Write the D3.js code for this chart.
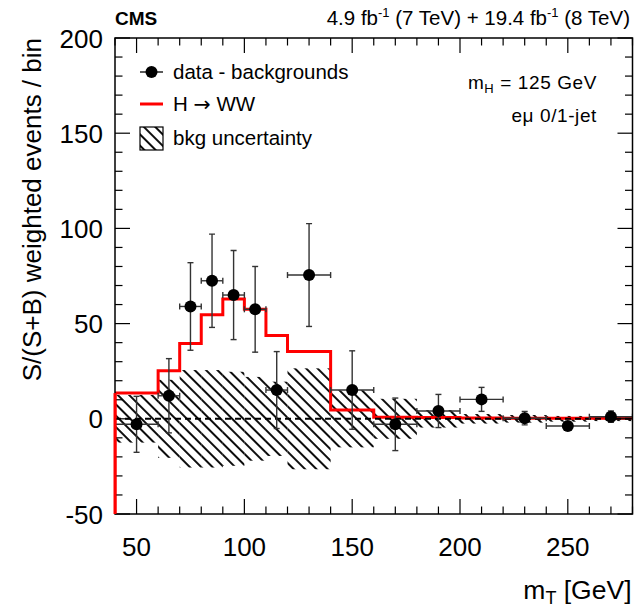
<!DOCTYPE html>
<html>
<head>
<meta charset="utf-8">
<script src="https://cdn.jsdelivr.net/npm/d3@7"></script>
<style>
  body { margin: 0; background: white; }
  text { font-family: "Liberation Sans", Arial, sans-serif; }
</style>
</head>
<body>
<svg id="vis-svg" width="634" height="610"></svg>
<script>
// plot frame in pixels
var width = 634;
var height = 610;
var frame = { left: 115, right: 632.5, top: 38, bottom: 514 };

// bins of the histogram (GeV)
var binEdges = [40, 60, 70, 80, 90, 100, 110, 120, 140, 160, 180, 200, 220, 240, 260, 280];
// H -> WW expectation per bin
var sigValues = [13.5, 25.3, 39.6, 54.7, 62.9, 57.5, 43.8, 35.3, 4.6, 0.8, 0.7, 0.4, 0.3, 0.3, 0.3];
// half width of the background uncertainty band
var bkgUnc = [12.5, 20.5, 25.6, 25.6, 24.7, 22, 19.5, 26.5, 15, 10.5, 4.6, 2.5, 2, 1.5, 1.2];
// data - backgrounds
var dataX = [50, 65, 75, 85, 95, 105, 115, 130, 150, 170, 190, 210, 230, 250, 270];
var dataY = [-2.9, 12.1, 59, 72.5, 65, 57.5, 15.1, 75.5, 15.1, -2.9, 4.1, 10.2, 0.3, -3.8, 1.1];
var dataErr = [14.7, 19.5, 23, 24.5, 23.4, 22.5, 20.2, 27, 20.6, 13.8, 8.7, 6.3, 3.5, 1.5, 3];

var xTicks = [50, 100, 150, 200, 250];
var yTicks = [-50, 0, 50, 100, 150, 200];

var svg = d3.select("#vis-svg");

var x = d3.scaleLinear().domain([40, 280]).range([frame.left, frame.right]);
var y = d3.scaleLinear().domain([-50, 200]).range([frame.bottom, frame.top]);

// hatch pattern for the uncertainty
var defs = svg.append("defs");
defs.append("pattern")
    .attr("id", "hatch")
    .attr("patternUnits", "userSpaceOnUse")
    .attr("width", 8)
    .attr("height", 8)
    .attr("patternTransform", "rotate(45)")
  .append("line")
    .attr("x1", 0).attr("x2", 8)
    .attr("y1", 4).attr("y2", 4)
    .attr("stroke", "black")
    .attr("stroke-width", 1.9);

defs.append("clipPath").attr("id", "plotclip")
  .append("rect")
    .attr("x", frame.left).attr("y", frame.top)
    .attr("width", frame.right - frame.left)
    .attr("height", frame.bottom - frame.top);

var plot = svg.append("g").attr("clip-path", "url(#plotclip)");

// uncertainty band
var bins = bkgUnc.map(function(u, i) {
  return { lo: binEdges[i], hi: binEdges[i + 1], unc: u, sig: sigValues[i] };
});

plot.selectAll("rect.band")
    .data(bins)
    .enter()
    .append("rect")
    .attr("class", "band")
    .attr("x", d => x(d.lo))
    .attr("width", d => x(d.hi) - x(d.lo))
    .attr("y", d => y(d.unc))
    .attr("height", d => y(-d.unc) - y(d.unc))
    .attr("fill", "url(#hatch)");

// signal histogram as a step line, starting from the bottom of the frame
var stepPts = [[40, -50]];
bins.forEach(function(d) {
  stepPts.push([d.lo, d.sig]);
  stepPts.push([d.hi, d.sig]);
});

plot.append("path")
    .datum(stepPts)
    .attr("fill", "none")
    .attr("stroke", "#ff0000")
    .attr("stroke-width", 3)
    .attr("d", d3.line().x(d => x(d[0])).y(d => y(d[1])));

// zero line
plot.append("line")
    .attr("x1", x(40)).attr("x2", x(280))
    .attr("y1", y(0)).attr("y2", y(0))
    .attr("stroke", "black")
    .attr("stroke-width", 2)
    .attr("stroke-dasharray", "6,4");

// data points with error bars
var pts = dataX.map(function(v, i) {
  return { x: v, y: dataY[i], err: dataErr[i], lo: binEdges[i], hi: binEdges[i + 1] };
});

var capW = 3;
var errG = plot.append("g").attr("stroke", "#333").attr("stroke-width", 1.4);

pts.forEach(function(d) {
  var px = x(d.x), py = y(d.y);
  // horizontal
  errG.append("line").attr("x1", x(d.lo)).attr("x2", x(d.hi)).attr("y1", py).attr("y2", py);
  errG.append("line").attr("x1", x(d.lo)).attr("x2", x(d.lo)).attr("y1", py - capW).attr("y2", py + capW);
  errG.append("line").attr("x1", x(d.hi)).attr("x2", x(d.hi)).attr("y1", py - capW).attr("y2", py + capW);
  // vertical
  var t = y(d.y + d.err), b = y(d.y - d.err);
  errG.append("line").attr("x1", px).attr("x2", px).attr("y1", t).attr("y2", b);
  errG.append("line").attr("x1", px - capW).attr("x2", px + capW).attr("y1", t).attr("y2", t);
  errG.append("line").attr("x1", px - capW).attr("x2", px + capW).attr("y1", b).attr("y2", b);
});

plot.selectAll("circle.pt")
    .data(pts)
    .enter()
    .append("circle")
    .attr("class", "pt")
    .attr("cx", d => x(d.x))
    .attr("cy", d => y(d.y))
    .attr("r", 6)
    .attr("fill", "black");

// frame and ticks
svg.append("rect")
    .attr("x", frame.left).attr("y", frame.top)
    .attr("width", frame.right - frame.left)
    .attr("height", frame.bottom - frame.top)
    .attr("fill", "none")
    .attr("stroke", "black")
    .attr("stroke-width", 1.5);

var ticks = svg.append("g").attr("stroke", "black").attr("stroke-width", 1.2);
d3.range(40, 281, 10).forEach(function(v) {
  var len = (v % 50 === 0) ? 15 : 7.5;
  ticks.append("line").attr("x1", x(v)).attr("x2", x(v)).attr("y1", frame.bottom).attr("y2", frame.bottom - len);
  ticks.append("line").attr("x1", x(v)).attr("x2", x(v)).attr("y1", frame.top).attr("y2", frame.top + len);
});
d3.range(-50, 201, 10).forEach(function(v) {
  var len = (v % 50 === 0) ? 15 : 7.5;
  ticks.append("line").attr("x1", frame.left).attr("x2", frame.left + len).attr("y1", y(v)).attr("y2", y(v));
  ticks.append("line").attr("x1", frame.right).attr("x2", frame.right - len).attr("y1", y(v)).attr("y2", y(v));
});

// the red histogram edge lies over the left axis
svg.append("line")
    .attr("x1", x(40)).attr("x2", x(40))
    .attr("y1", y(-50)).attr("y2", y(sigValues[0]))
    .attr("stroke", "#ff0000").attr("stroke-width", 3);

// tick labels
svg.append("g").selectAll("text")
    .data(xTicks)
    .enter()
    .append("text")
    .attr("x", d => x(d))
    .attr("y", 556)
    .attr("text-anchor", "middle")
    .attr("font-size", 26)
    .text(d => d);

svg.append("g").selectAll("text")
    .data(yTicks)
    .enter()
    .append("text")
    .attr("x", 103)
    .attr("y", d => y(d) + 9.5)
    .attr("text-anchor", "end")
    .attr("font-size", 26)
    .text(d => d);

// axis titles
var xt = svg.append("text")
    .attr("x", frame.right - 1)
    .attr("y", 599)
    .attr("text-anchor", "end")
    .attr("font-size", 26.5);
xt.append("tspan").text("m");
xt.append("tspan").attr("font-size", 18).attr("dy", 5).text("T");
xt.append("tspan").attr("dy", -5).text(" [GeV]");

svg.append("text")
    .attr("transform", "translate(41," + frame.top + ") rotate(-90)")
    .attr("text-anchor", "end")
    .attr("font-size", 26)
    .text("S/(S+B) weighted events / bin");

// header
svg.append("text")
    .attr("x", frame.left)
    .attr("y", 25)
    .attr("font-size", 19)
    .attr("font-weight", "bold")
    .text("CMS");

var hd = svg.append("text")
    .attr("x", 630)
    .attr("y", 25)
    .attr("text-anchor", "end")
    .attr("font-size", 20.5);
hd.append("tspan").text("4.9 fb");
hd.append("tspan").attr("font-size", 13).attr("dy", -8).text("-1");
hd.append("tspan").attr("dy", 8).text(" (7 TeV) + 19.4 fb");
hd.append("tspan").attr("font-size", 13).attr("dy", -8).text("-1");
hd.append("tspan").attr("dy", 8).text(" (8 TeV)");

// legend
var lg = svg.append("g");
lg.append("line").attr("x1", 140).attr("x2", 163).attr("y1", 72).attr("y2", 72)
    .attr("stroke", "black").attr("stroke-width", 1.3);
lg.append("circle").attr("cx", 151.5).attr("cy", 72).attr("r", 6).attr("fill", "black");
lg.append("line").attr("x1", 140).attr("x2", 163).attr("y1", 104).attr("y2", 104)
    .attr("stroke", "#ff0000").attr("stroke-width", 3);
lg.append("rect").attr("x", 140).attr("y", 127).attr("width", 23).attr("height", 23)
    .attr("fill", "url(#hatch)").attr("stroke", "black").attr("stroke-width", 1.2);

var legY = [79, 111, 145];
lg.append("text").attr("x", 173).attr("y", legY[0]).attr("font-size", 20.5).text("data - backgrounds");
var hw = lg.append("text").attr("x", 173).attr("y", legY[1]).attr("font-size", 20.5);
hw.append("tspan").text("H ");
hw.append("tspan").attr("font-family", "DejaVu Sans").text("\u2192");
hw.append("tspan").text(" WW");
lg.append("text").attr("x", 173).attr("y", legY[2]).attr("font-size", 20.5).text("bkg uncertainty");

// annotation
var mh = svg.append("text")
    .attr("x", 597)
    .attr("y", 89)
    .attr("text-anchor", "end")
    .attr("font-size", 19)
    .attr("letter-spacing", 0.6);
mh.append("tspan").text("m");
mh.append("tspan").attr("font-size", 13).attr("dy", 4).text("H");
mh.append("tspan").attr("dy", -4).text(" = 125 GeV");

svg.append("text")
    .attr("x", 597)
    .attr("y", 122)
    .attr("text-anchor", "end")
    .attr("font-size", 19)
    .attr("letter-spacing", 0.6)
    .text("e\u03bc 0/1-jet");
</script>
</body>
</html>
